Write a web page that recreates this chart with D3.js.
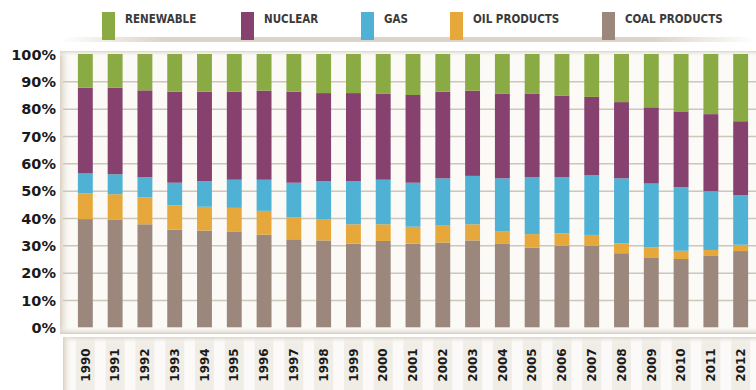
<!DOCTYPE html>
<html><head><meta charset="utf-8">
<script src="https://cdn.jsdelivr.net/npm/d3@7"></script>
<style>
html,body{margin:0;padding:0;background:#fff;}
svg{display:block;}
</style></head>
<body>
<svg id="chart" width="756" height="390"></svg>
<script>
const years = ["1990","1991","1992","1993","1994","1995","1996","1997","1998","1999","2000","2001","2002","2003","2004","2005","2006","2007","2008","2009","2010","2011","2012"];
const coalProducts = [39.6,39.3,37.7,35.7,35.4,34.9,33.9,32.2,31.8,30.6,31.6,30.6,31.0,31.8,30.5,29.1,29.8,29.8,27.1,25.6,25.0,26.1,27.9];
const oilProducts  = [9.4,9.4,9.9,8.9,8.7,8.8,8.7,8.0,7.8,7.1,6.1,6.2,6.2,5.9,4.7,5.0,4.6,4.0,3.6,3.7,3.0,2.2,2.3];
const gas          = [7.3,7.3,7.3,8.3,9.4,10.3,11.4,12.7,13.8,15.7,16.3,16.1,17.3,17.7,19.3,20.9,20.6,21.8,23.8,23.3,23.3,21.5,18.1];
const nuclear      = [31.4,31.7,31.8,33.3,32.7,32.2,32.6,33.3,32.3,32.3,31.4,32.1,31.7,31.2,30.9,30.4,29.8,28.7,27.9,27.9,27.7,28.2,27.1];
const renewable    = [12.3,12.3,13.3,13.8,13.8,13.8,13.4,13.8,14.3,14.3,14.6,15.0,13.8,13.4,14.6,14.6,15.2,15.7,17.6,19.5,21.0,22.0,24.6];
const yTicks = [0,10,20,30,40,50,60,70,80,90,100];
const seriesNames = ["COAL PRODUCTS","OIL PRODUCTS","GAS","NUCLEAR","RENEWABLE"];
const legendOrder = ["RENEWABLE","NUCLEAR","GAS","OIL PRODUCTS","COAL PRODUCTS"];
const colors = {"RENEWABLE":"#8aaa43","NUCLEAR":"#86416f","GAS":"#4fb2d4","OIL PRODUCTS":"#e6a83b","COAL PRODUCTS":"#9b877c"};

const seriesArrays = {"COAL PRODUCTS":coalProducts,"OIL PRODUCTS":oilProducts,"GAS":gas,"NUCLEAR":nuclear,"RENEWABLE":renewable};
const table = years.map((y,i)=>{const o={year:y}; seriesNames.forEach(k=>o[k]=seriesArrays[k][i]); return o;});

const svg = d3.select("#chart");
const defs = svg.append("defs");

const gl = defs.append("linearGradient").attr("id","leftShade").attr("x1","0").attr("x2","1").attr("y1","0").attr("y2","0");
gl.append("stop").attr("offset","0").attr("stop-color","#d9d0c2");
gl.append("stop").attr("offset","1").attr("stop-color","#ffffff").attr("stop-opacity","0");
const gt = defs.append("linearGradient").attr("id","topShade").attr("x1","0").attr("x2","0").attr("y1","0").attr("y2","1");
gt.append("stop").attr("offset","0").attr("stop-color","#ddd5c8");
gt.append("stop").attr("offset","1").attr("stop-color","#ffffff").attr("stop-opacity","0");
const gb = defs.append("linearGradient").attr("id","botShade").attr("x1","0").attr("x2","0").attr("y1","0").attr("y2","1");
gb.append("stop").attr("offset","0").attr("stop-color","#ffffff").attr("stop-opacity","0");
gb.append("stop").attr("offset","1").attr("stop-color","#d6ccbd");
const gLeg = defs.append("linearGradient").attr("id","legShade").attr("x1","0").attr("x2","1").attr("y1","0").attr("y2","0");
gLeg.append("stop").attr("offset","0").attr("stop-color","#ffffff");
gLeg.append("stop").attr("offset","0.15").attr("stop-color","#d8cfc1");
gLeg.append("stop").attr("offset","0.85").attr("stop-color","#d8cfc1");
gLeg.append("stop").attr("offset","1").attr("stop-color","#ffffff");

const x = d3.scaleBand().domain(years).range([63, 763]).paddingInner(0.5).paddingOuter(0.5);
const y = d3.scaleLinear().domain([0,100]).range([327.3, 54]);

svg.append("rect").attr("x",60).attr("y",37).attr("width",696).attr("height",5).attr("fill","url(#legShade)").attr("opacity",0.9);

const panelX = 60, panelY = 51, panelW = 700, panelH = 283;
svg.append("rect").attr("x",panelX).attr("y",panelY).attr("width",panelW).attr("height",panelH).attr("fill","#fbfaf7");
svg.append("rect").attr("x",panelX).attr("y",panelY).attr("width",12).attr("height",panelH).attr("fill","url(#leftShade)");
svg.append("rect").attr("x",panelX).attr("y",panelY).attr("width",panelW).attr("height",6).attr("fill","url(#topShade)");
svg.append("rect").attr("x",panelX).attr("y",326).attr("width",panelW).attr("height",8).attr("fill","url(#botShade)");

const grid = svg.append("g").attr("transform","translate(63,0)")
  .call(d3.axisLeft(y).tickValues(yTicks.filter(d=>d>0 && d<100)).tickSize(-700).tickFormat(""));
grid.select(".domain").remove();
grid.selectAll(".tick line").attr("stroke","#cdc6ba").attr("stroke-width",1.5);

const stack = d3.stack().keys(seriesNames);
const stacked = stack(table);
svg.append("g").selectAll("g").data(stacked).join("g")
  .attr("fill",d=>colors[d.key])
  .selectAll("rect").data(d=>d).join("rect")
  .attr("x",d=>x(d.data.year))
  .attr("width",x.bandwidth())
  .attr("y",d=>y(d[1]))
  .attr("height",d=>y(d[0])-y(d[1]));

const yAxis = svg.append("g").attr("transform","translate(56,0)")
  .call(d3.axisLeft(y).tickValues(yTicks).tickSize(0).tickPadding(0).tickFormat(d=>d+"%"));
yAxis.select(".domain").remove();
yAxis.selectAll("text").attr("font-family","'DejaVu Sans', sans-serif").attr("font-weight","bold")
  .attr("font-size","14.5px").attr("fill","#1a1a1a").attr("dy","0.35em");

const bandY = 337;
svg.append("rect").attr("x",63).attr("y",bandY).attr("width",700).attr("height",53).attr("fill","#fbfaf8");
svg.append("g").selectAll("rect").data(years).join("rect")
  .attr("x",d=>x(d)-2).attr("width",x.bandwidth()+4).attr("y",bandY).attr("height",53).attr("fill","#ebe7e0").attr("opacity",0.7);
svg.append("rect").attr("x",63).attr("y",bandY).attr("width",700).attr("height",7).attr("fill","url(#topShade)");
svg.append("rect").attr("x",63).attr("y",bandY).attr("width",10).attr("height",53).attr("fill","url(#leftShade)");

const xAxis = svg.append("g").attr("transform","translate(0,365)")
  .call(d3.axisBottom(x).tickSize(0).tickPadding(0));
xAxis.select(".domain").remove();
xAxis.selectAll("text")
  .attr("transform","rotate(-90)")
  .attr("x",0).attr("y",0).attr("dy","0.35em")
  .attr("text-anchor","middle")
  .attr("font-family","'DejaVu Sans', sans-serif").attr("font-weight","bold")
  .attr("font-size","12px").attr("fill","#1a1a1a");

const legendX = {"RENEWABLE":102,"NUCLEAR":241,"GAS":361,"OIL PRODUCTS":450,"COAL PRODUCTS":602};
const leg = svg.append("g").selectAll("g").data(legendOrder).join("g")
  .attr("transform",d=>`translate(${legendX[d]},0)`);
leg.append("rect").attr("x",0).attr("y",12).attr("width",13).attr("height",28).attr("fill",d=>colors[d]);
leg.append("text").attr("x",23).attr("y",23).text(d=>d)
  .attr("font-family","'DejaVu Sans Condensed', 'DejaVu Sans', sans-serif")
  .attr("font-size","11.5px").attr("font-weight","bold").attr("fill","#3a3a3a");
</script>
</body></html>
